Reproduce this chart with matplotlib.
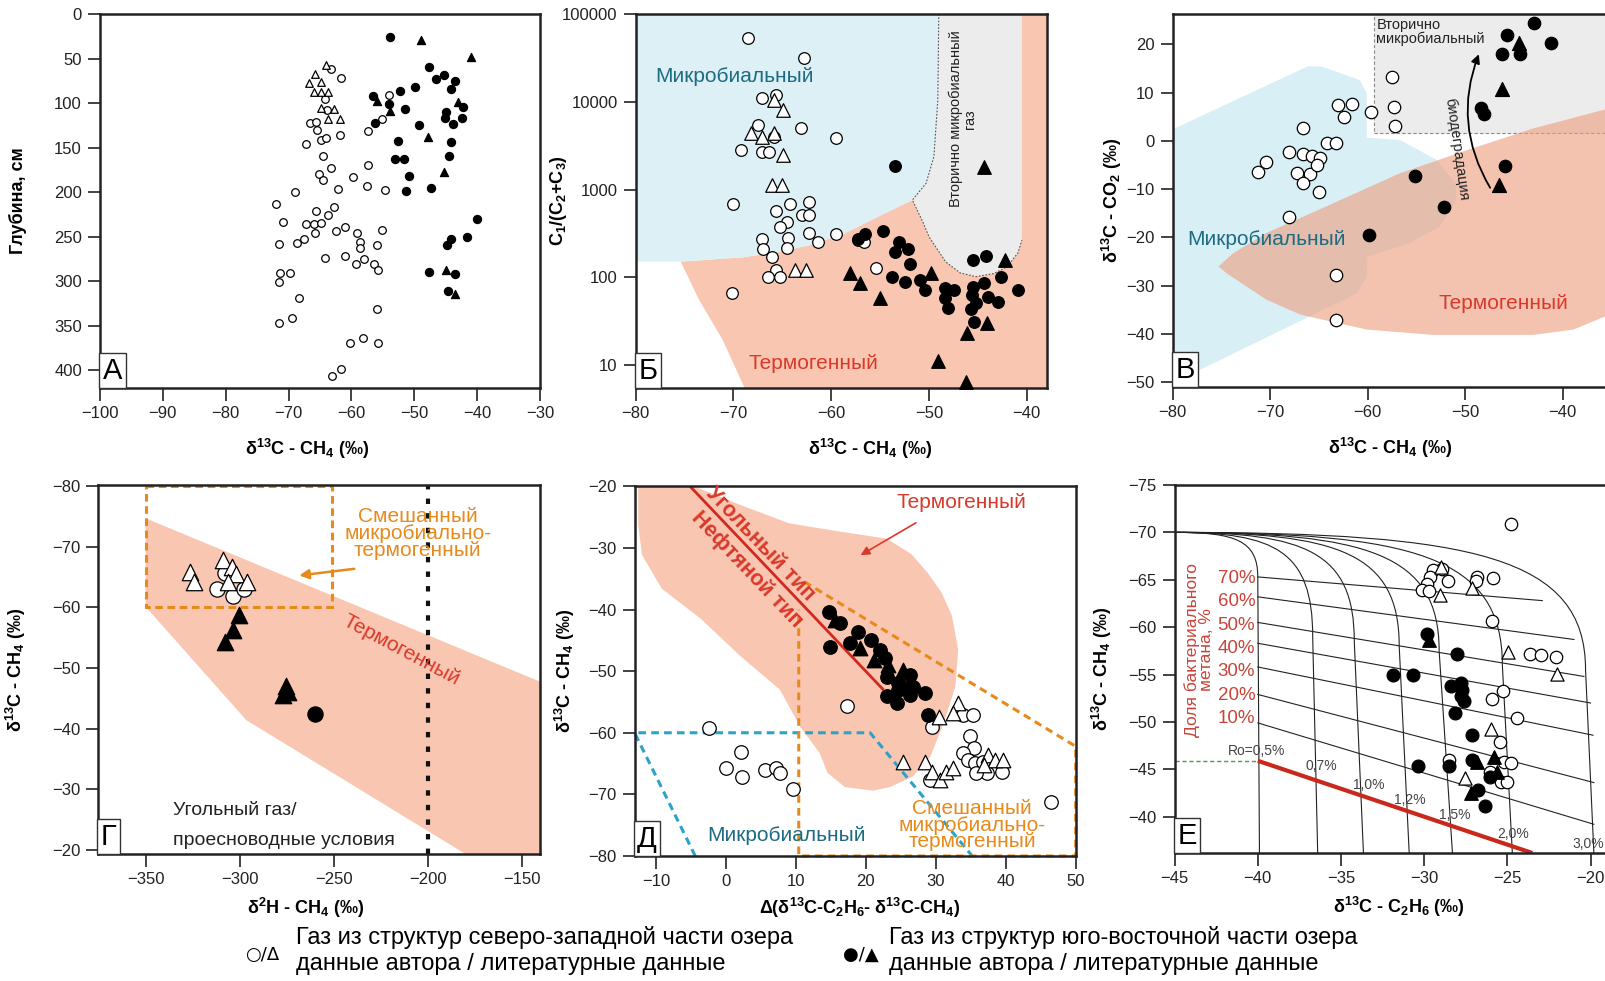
import matplotlib
matplotlib.use("Agg")
import matplotlib.pyplot as plt
import numpy as np
from matplotlib.patches import Polygon, Rectangle, PathPatch, FancyArrowPatch
from matplotlib.path import Path
from matplotlib.ticker import FixedLocator, FixedFormatter, NullLocator

plt.rcParams['font.family'] = ['Liberation Sans', 'DejaVu Sans']
plt.rcParams['mathtext.fontset'] = 'custom'
plt.rcParams['mathtext.rm'] = 'Liberation Sans'
plt.rcParams['mathtext.bf'] = 'Liberation Sans:bold'
plt.rcParams['mathtext.it'] = 'Liberation Sans:italic'
plt.rcParams['mathtext.default'] = 'bf'

PINK = '#f9c6b1'
BLUE = '#dcf0f6'
GREY = '#ececec'
TEAL = '#1d6b82'
RED = '#d8392b'
ORANGE = '#e8891c'
CYAN = '#2aa3c7'

# ---------------- data ----------------
# A: depth vs d13C-CH4
a_open_circ = [(-63.2, 61.8), (-61.6, 71.5), (-54.1, 91), (-64.2, 95.5), (-63.9, 108), (-66.6, 122),
               (-65.6, 121), (-65.5, 130), (-55.2, 118), (-57.4, 131), (-64.9, 141), (-64.1, 139),
               (-61.8, 136), (-67.3, 146), (-64.6, 159.5), (-57.3, 170), (-63.2, 173), (-65.2, 180),
               (-64.5, 186.5), (-59.7, 183), (-57.5, 193), (-62.2, 197), (-54.7, 198), (-69.0, 200),
               (-72.0, 213), (-65.7, 221), (-62.8, 216.5), (-63.8, 226), (-70.9, 234), (-67.3, 236),
               (-65.9, 236), (-64.8, 234.5), (-65.8, 246), (-61.0, 239), (-62.4, 244), (-59.1, 246),
               (-55.1, 243), (-71.6, 258), (-68.6, 257), (-67.6, 253), (-64.2, 274.5), (-61.1, 272),
               (-58.7, 256), (-58.7, 263), (-58.0, 275.6), (-59.2, 281), (-56.4, 281), (-56.0, 259.5),
               (-55.7, 287), (-71.3, 290.6), (-69.8, 290.6), (-71.6, 301), (-68.3, 318.7), (-71.5, 346.8),
               (-69.4, 341), (-56.0, 331.8), (-60.2, 370), (-58.1, 364), (-55.8, 369), (-61.6, 399),
               (-63.1, 406.7)]
a_open_tri = [(-64.1, 57), (-65.8, 67), (-66.8, 77), (-64.8, 76), (-65.9, 88), (-64.8, 88), (-63.8, 88),
              (-64.9, 106), (-62.8, 107), (-63.8, 118), (-61.8, 118)]
a_fill_circ = [(-53.9, 25.5), (-47.6, 60), (-45.2, 68), (-46.5, 72.5), (-43.5, 75), (-49.9, 81.6),
               (-44.2, 84.6), (-52.3, 86.5), (-56.5, 91.8), (-54.0, 101.5), (-42.3, 104), (-51.4, 106.7),
               (-44.9, 109.7), (-45.1, 116.5), (-42.4, 117), (-56.3, 122), (-43.9, 124), (-49.3, 124.7),
               (-52.6, 142.7), (-44.2, 143.4), (-53.0, 163), (-51.6, 163), (-44.5, 159), (-50.9, 182),
               (-51.3, 199), (-47.3, 195), (-40.1, 230), (-41.6, 250), (-44.2, 253), (-44.8, 259.5),
               (-47.6, 289.5), (-43.6, 292.5), (-44.6, 311)]
a_fill_tri = [(-48.9, 29), (-41.0, 48), (-56.0, 97.8), (-43.1, 98.5), (-53.8, 109), (-47.8, 138),
              (-45.3, 177), (-44.9, 288), (-43.6, 314)]

# Б: C1/(C2+C3) vs d13C-CH4
b_open_circ = [(-68.5, 53700), (-62.8, 31300), (-67.1, 11100), (-65.6, 11900), (-67.5, 5430), (-63.1, 4980),
               (-65.9, 4000), (-59.5, 3830), (-69.2, 2820), (-67.1, 2700), (-66.4, 2700), (-70.0, 684),
               (-64.2, 684), (-62.3, 726), (-63.0, 512), (-62.3, 512), (-65.7, 574), (-64.5, 431),
               (-65.2, 377), (-62.3, 316), (-59.5, 308), (-67.1, 275), (-64.4, 282), (-61.4, 250),
               (-67.0, 208), (-64.5, 217), (-66.1, 172), (-65.7, 121), (-66.5, 102), (-65.2, 100),
               (-70.2, 65.6), (-57.3, 266), (-56.6, 254), (-55.4, 126)]
b_open_tri = [(-65.9, 10470), (-64.9, 8050), (-68.2, 4370), (-67.1, 3990), (-65.9, 4370), (-64.9, 2470),
              (-66.1, 1120), (-65.05, 1120), (-63.7, 121), (-62.6, 121)]
b_fill_circ = [(-53.5, 1870), (-57.3, 272), (-56.5, 308), (-54.7, 336), (-53.1, 250), (-53.5, 196),
               (-52.1, 210), (-51.9, 141), (-53.8, 102), (-52.5, 89), (-50.9, 93), (-50.45, 71.6),
               (-48.4, 74.8), (-47.4, 71.6), (-48.4, 57.5), (-48.1, 44.3), (-45.5, 157), (-44.2, 175),
               (-45.5, 78), (-44.4, 85), (-42.6, 100), (-40.9, 71.6), (-45.6, 62.8), (-44.0, 60),
               (-42.95, 52.7), (-45.15, 50.5), (-45.7, 43.2), (-45.4, 31.2)]
b_fill_tri = [(-44.4, 1820), (-42.2, 157), (-58.1, 111), (-57.1, 85), (-55.0, 57.5), (-49.8, 111),
              (-46.1, 22.9), (-44.1, 29.9), (-49.1, 11), (-46.2, 6.45)]

# В: d13C-CO2 vs d13C-CH4
c_open_circ = [(-57.5, 13.3), (-63.0, 7.4), (-61.65, 7.6), (-62.4, 5.0), (-59.7, 6.05), (-57.3, 7.1),
               (-57.2, 3.1), (-66.6, 2.75), (-64.2, -0.5), (-63.25, -0.5), (-71.3, -6.5), (-70.4, -4.4),
               (-68.1, -2.4), (-66.6, -2.8), (-65.7, -3.05), (-64.9, -3.5), (-67.3, -6.6), (-65.9, -6.9),
               (-65.2, -5.0), (-66.6, -8.8), (-65.0, -10.6), (-68.1, -15.8), (-63.3, -27.8), (-63.3, -37.2)]
c_fill_circ = [(-42.9, 24.5), (-45.7, 21.9), (-41.2, 20.2), (-46.25, 18.1), (-44.4, 18.1), (-48.4, 6.9),
               (-48.1, 5.5), (-45.9, -5.1), (-55.1, -7.2), (-52.2, -13.6), (-59.9, -19.5)]
c_fill_tri = [(-44.5, 20.2), (-46.2, 10.7), (-46.5, -9.2)]

# Г: d13C-CH4 vs d2H-CH4
g_open_circ = [(-312.3, -63.0), (-303.8, -61.8), (-307.9, -65.6), (-297.8, -63.1)]
g_open_tri = [(-326.5, -65.9), (-324.2, -64.1), (-308.8, -67.8), (-304.3, -66.7), (-302.0, -65.5),
              (-306.1, -64.2), (-296.0, -64.1)]
g_fill_tri = [(-300.3, -58.75), (-303.8, -56.3), (-307.9, -54.35), (-275.5, -47.0), (-277.0, -45.5),
              (-274.5, -46.0)]
g_fill_circ = [(-260.0, -42.4)]

# Д: d13C-CH4 vs (d13C-C2H6 - d13C-CH4)
d_fill_circ = [(14.77, -40.35), (16.3, -42.2), (14.87, -46.0), (17.7, -45.5), (18.9, -43.6), (20.8, -44.9),
               (22.7, -47.9), (23.0, -50.9), (24.6, -52.0), (26.3, -50.6), (26.8, -52.5), (26.3, -53.9),
               (28.45, -53.6), (23.0, -54.1), (24.4, -55.2), (28.9, -57.1), (24.6, -53.0), (22.0, -46.5),
               (25.5, -52.8)]
d_fill_tri = [(15.6, -41.7), (19.1, -46.3), (21.2, -48.2), (23.2, -49.0), (25.35, -49.8)]
d_open_circ = [(17.3, -55.6), (-2.5, -59.3), (2.2, -63.1), (0.0, -65.7), (2.3, -67.1), (5.6, -66.1),
               (7.1, -65.7), (7.7, -66.5), (9.6, -69.2), (29.4, -59.0), (33.9, -57.1), (35.3, -57.1),
               (34.9, -60.6), (35.4, -62.5), (33.9, -63.3), (34.6, -64.4), (35.6, -64.9), (36.8, -64.7),
               (37.3, -66.5), (35.8, -66.5), (39.4, -66.3), (29.2, -67.6), (46.4, -71.3)]
d_open_tri = [(33.2, -55.1), (32.4, -56.8), (30.4, -57.4), (25.3, -64.8), (28.45, -64.8), (29.4, -66.3),
              (30.6, -67.6), (31.5, -66.3), (32.5, -65.7), (37.5, -63.6), (38.5, -64.4), (39.65, -64.4),
              (36.9, -65.2)]

# Е: d13C-CH4 vs d13C-C2H6
e_open_circ = [(-24.8, -70.9), (-28.95, -66.1), (-29.45, -66.0), (-29.65, -65.3), (-29.85, -64.6),
               (-30.15, -63.9), (-29.7, -63.85), (-28.55, -64.9), (-26.85, -65.3), (-26.9, -64.9),
               (-25.85, -65.15), (-25.95, -60.7), (-23.64, -57.2), (-23.0, -57.1), (-22.08, -56.9),
               (-25.25, -53.3), (-25.9, -52.4), (-24.4, -50.4), (-25.45, -47.9), (-28.5, -46.0),
               (-25.2, -45.8), (-24.8, -45.7), (-26.05, -44.75), (-25.4, -43.7), (-25.0, -43.7)]
e_open_tri = [(-29.05, -63.4), (-27.15, -64.1), (-24.95, -57.4), (-22.0, -55.1), (-25.99, -49.3),
              (-27.55, -44.05), (-29.0, -66.3)]
e_fill_circ = [(-29.8, -59.3), (-28.0, -57.2), (-31.9, -55.0), (-30.7, -55.0), (-28.4, -53.8), (-27.8, -54.1),
               (-27.7, -53.4), (-27.8, -52.7), (-27.6, -52.2), (-28.15, -50.9), (-27.1, -48.6), (-30.4, -45.35),
               (-28.5, -45.3), (-27.15, -46.0), (-26.05, -44.2), (-26.75, -42.8), (-26.35, -41.1)]
e_fill_tri = [(-29.7, -58.6), (-26.8, -45.8), (-25.8, -46.3), (-27.2, -42.5), (-25.6, -44.75)]

# region outlines
b_blue_edge = [(-49.0, 1e5), (-49.1, 10470), (-49.5, 2366), (-50.3, 1175), (-51.7, 759), (-55.2, 490),
               (-58.65, 316), (-62.1, 233), (-65.6, 192), (-69.0, 169), (-75.4, 150.6)]
b_grey_edge = [(-51.7, 759), (-50.6, 420), (-50.0, 290), (-48.3, 150), (-46.8, 112), (-45.2, 101.6),
               (-43.4, 110), (-42.0, 132), (-40.9, 190), (-40.5, 265), (-40.5, 1e5)]
b_pink_left = [(-75.4, 150.6), (-73.5, 55), (-71.1, 19.3), (-68.7, 5.0)]

c_blue_1 = [(-80, 2.4), (-66.1, 15.5), (-64.7, 15.4), (-60.8, 12.6), (-60.1, 9.9), (-60.1, -28.1),
            (-61.1, -31.6), (-80, -50.2)]
c_blue_2 = [(-80, 2.05), (-70.4, 2.1), (-56.7, 0.2), (-52.9, -3.95), (-51.0, -8.8), (-50.9, -12.2),
            (-52.6, -17.75), (-55.7, -21.2), (-60.8, -24.5), (-70.4, -24.65), (-73.8, -24.3)]
c_pink = [(-75.3, -26.0), (-73.8, -23.3), (-70.4, -19.1), (-63.5, -12.9), (-56.7, -6.7), (-49.8, -1.9),
          (-43.0, 2.6), (-34.0, 7.4), (-34.0, -35.0), (-38.9, -39.1), (-43.0, -40.2), (-53.3, -40.2),
          (-60.1, -39.1), (-66.9, -36.0), (-70.4, -32.9), (-74.5, -27.4)]

g_pink = [(-350, -74.67), (-140.5, -47.75), (-140.5, -19.3), (-179.8, -19.3), (-296.5, -41.4),
          (-350, -60.1)]

d_blob = [(-12.55, -20), (-4.6, -20), (2.0, -23.0), (9.0, -26.0), (16.0, -27.3), (23.0, -28.5),
          (26.5, -31.0), (28.8, -34.0), (30.8, -37.2), (32.3, -41.0), (33.2, -46.5), (32.8, -52.5),
          (31.1, -58.5), (29.2, -63.9), (26.7, -67.1), (23.5, -68.8), (21.0, -69.4), (17.0, -68.8),
          (14.5, -66.5), (13.4, -63.3), (10.6, -59.0), (7.7, -53.0), (2.0, -47.5), (-3.6, -41.5),
          (-9.2, -36.6), (-12.0, -31.15), (-12.55, -26.3)]
d_oil_line = [(-5.4, -19.7), (22.4, -52.9)]
d_blue_dash = [(-4.4, -80), (-13.07, -60), (20.6, -60), (35.2, -80)]
d_orange_diag = [(11.2, -35.5), (50, -62.2), (50, -80), (10.4, -80), (10.4, -40)]

# Е mixing grid
ro_labels = ['Ro=0,5%', '0,7%', '1,0%', '1,2%', '1,5%', '2,0%', '3,0%']
ro_label_pos = [(-40.07, -46.9), (-36.16, -45.3), (-33.36, -43.35), (-30.85, -41.76), (-28.15, -40.2),
                (-24.65, -38.2), (-20.14, -37.1)]
ro_bottom_x = [-39.9, -36.4, -33.65, -30.9, -28.3, -24.7, -19.8]
ro_bend_x = [-40.0, -36.7, -34.2, -31.5, -29.1, -25.3, -20.3]
ro_bend_y = [-65.3, -59.0, -58.5, -58.0, -57.5, -56.0, -55.5]
pct_labels = ['10%', '20%', '30%', '40%', '50%', '60%', '70%']
pct_left_y = [-49.9, -52.9, -55.8, -58.3, -60.5, -63.2, -65.3]
pct_right_x = [-19.8, -19.8, -19.85, -20.0, -20.4, -21.0, -22.9]
pct_right_y = [-39.2, -43.6, -48.6, -52.0, -54.8, -58.7, -62.8]
pct_text_y = [-50.4, -52.8, -55.3, -57.8, -60.2, -62.7, -65.15]
thermo_line = [(-40.0, -45.9), (-23.5, -36.17)]


def frame(ax, xlim, ylim, xticks, yticks, letter):
    ax.set_xlim(*xlim)
    ax.set_ylim(*ylim)
    ax.xaxis.set_major_locator(FixedLocator(xticks))
    ax.yaxis.set_major_locator(FixedLocator(yticks))
    ax.tick_params(direction='out', length=9, width=1.2, labelsize=12, pad=4, colors='#222')
    for s in ax.spines.values():
        s.set_linewidth(1.8)
        s.set_color('#222')
    ax.text(0.006, 0.009, letter, transform=ax.transAxes, fontsize=21, ha='left', va='bottom',
            bbox=dict(boxstyle='square,pad=0.12', fc='white', ec='#333', lw=1), zorder=10)


def dots(ax, pts, marker, filled, size):
    p = np.array(pts)
    ax.scatter(p[:, 0], p[:, 1], s=size, marker=marker, facecolors='black' if filled else 'white',
               edgecolors='black', linewidths=0.9, zorder=5, clip_on=False)


fig = plt.figure(figsize=(16.06, 9.81), dpi=100)
W, H = 1606.0, 981.0


def axes_px(left, top, right, bottom):
    return fig.add_axes([left / W, 1 - bottom / H, (right - left) / W, (bottom - top) / H])


ylab = dict(fontsize=13, fontweight='bold')

# ---------- A ----------
ax = axes_px(100, 14, 540, 388)
frame(ax, (-100, -30), (420, 0), range(-100, -29, 10), range(0, 401, 50), 'А')
dots(ax, a_open_circ, 'o', False, 30)
dots(ax, a_open_tri, '^', False, 30)
dots(ax, a_fill_circ, 'o', True, 34)
dots(ax, a_fill_tri, '^', True, 34)
ax.set_ylabel('Глубина, см', **ylab)
ax.yaxis.set_label_coords(-0.165, 0.5)
ax.set_xlabel('δ$^{13}$C - CH$_4$ (‰)', **ylab)
ax.xaxis.set_label_coords(0.47, -0.132)

# ---------- Б ----------
ax = axes_px(635.7, 14, 1047, 388)
ax.set_yscale('log')
frame(ax, (-80, -37.93), (5.47, 1e5), [-80, -70, -60, -50, -40], [10, 100, 1000, 10000, 100000], 'Б')
ax.yaxis.set_major_formatter(FixedFormatter(['10', '100', '1000', '10000', '100000']))
ax.yaxis.set_minor_locator(NullLocator())
pink_poly = b_pink_left + [(-30, 5.0), (-30, 1e5)] + b_blue_edge[:5] + b_blue_edge[5:]
ax.add_patch(Polygon(pink_poly, closed=True, fc=PINK, ec='none', zorder=0))
ax.add_patch(Polygon(b_blue_edge[:5] + b_grey_edge[1:], closed=True, fc=GREY, ec='none', zorder=0.5))
ax.add_patch(Polygon(b_blue_edge + [(-80, 150.6), (-80, 1e5)], closed=True, fc=BLUE, ec='none', zorder=0.6))
bx, by = zip(*(b_blue_edge[:5] + b_grey_edge[1:-1]))
ax.plot(bx, by, color='#555', lw=0.8, ls=(0, (1.5, 1.5)), zorder=1)
ax.text(-69.9, 19650, 'Микробиальный', color=TEAL, fontsize=15, ha='center', va='center')
ax.text(-61.8, 10.5, 'Термогенный', color=RED, fontsize=15, ha='center', va='center')
ax.text(-46.5, 6400, 'Вторично микробиальный\nгаз', rotation=90, fontsize=10.5, ha='center',
        va='center', multialignment='center', color='#222', linespacing=1.0)
dots(ax, b_open_circ, 'o', False, 70)
dots(ax, b_open_tri, '^', False, 95)
dots(ax, b_fill_circ, 'o', True, 70)
dots(ax, b_fill_tri, '^', True, 95)
ax.set_ylabel('C$_1$/(C$_2$+C$_3$)', **ylab)
ax.yaxis.set_label_coords(-0.163, 0.5)
ax.set_xlabel('δ$^{13}$C - CH$_4$ (‰)', **ylab)
ax.xaxis.set_label_coords(0.57, -0.132)

# ---------- В ----------
ax = axes_px(1172.7, 14, 1611, 387)
frame(ax, (-80, -35.05), (-51, 26.3), [-80, -70, -60, -50, -40], range(-50, 21, 10), 'В')
ax.add_patch(Polygon(c_blue_1, closed=True, fc='#d8eff6', ec='none', zorder=0))
ax.add_patch(Polygon(c_blue_2, closed=True, fc='#d8eff6', ec='none', zorder=0))
ax.add_patch(Rectangle((-59.4, 1.57), 30, 30, fc=GREY, ec='#888', lw=0.8, ls=(0, (3, 2)), zorder=0.3))
ax.add_patch(Polygon(c_pink, closed=True, fc='#ee9c7c', alpha=0.6, ec='none', zorder=0.6))
ax.text(-70.4, -20.5, 'Микробиальный', color=TEAL, fontsize=15, ha='center', va='center', zorder=3)
ax.text(-46.1, -33.6, 'Термогенный', color=RED, fontsize=15, ha='center', va='center', zorder=3)
ax.text(-59.1, 22.6, 'Вторично\nмикробиальный', fontsize=10.5, ha='left', va='center',
        color='#222', linespacing=0.95)
ax.add_patch(FancyArrowPatch((-47.3, -10.2), (-48.5, 18.5), connectionstyle='arc3,rad=-0.25',
                             arrowstyle='-|>', mutation_scale=13, lw=1.3, color='black', zorder=4))
ax.text(-50.9, -1.7, 'биодеградация', rotation=-82, fontsize=10.5, ha='center', va='center', color='#222')
dots(ax, c_open_circ, 'o', False, 80)
dots(ax, c_fill_circ, 'o', True, 80)
dots(ax, c_fill_tri, '^', True, 100)
ax.set_ylabel('δ$^{13}$C - CO$_2$ (‰)', **ylab)
ax.yaxis.set_label_coords(-0.11, 0.5)
ax.set_xlabel('δ$^{13}$C - CH$_4$ (‰)', **ylab)
ax.xaxis.set_label_coords(0.495, -0.132)

# ---------- Г ----------
ax = axes_px(98.2, 485, 540, 854.3)
frame(ax, (-375.2, -140.5), (-19.3, -80.16), [-350, -300, -250, -200, -150], range(-80, -19, 10), 'Г')
ax.add_patch(Polygon(g_pink, closed=True, fc=PINK, ec='none', zorder=0))
ax.add_patch(Rectangle((-350, -80), 99, 20, fill=False, ec=ORANGE, lw=2.2, ls=(0, (2.5, 1.5)),
                       zorder=1, clip_on=False))
ax.axvline(-200, color='#111', lw=3, ls=(0, (1.3, 2.2)), zorder=1)
ax.text(-205.4, -72.2, 'Смешанный\nмикробиально-\nтермогенный', color=ORANGE, fontsize=15,
        ha='center', va='center', linespacing=0.88, zorder=3)
ax.annotate('', xy=(-269.9, -65.2), xytext=(-237.7, -66.4),
            arrowprops=dict(arrowstyle='-|>', color=ORANGE, lw=1.8, mutation_scale=14))
ax.text(-214, -53, 'Термогенный', color=RED, fontsize=15, rotation=-28, ha='center', va='center')
ax.text(-335.4, -26.6, 'Угольный газ/', fontsize=14, ha='left', va='center', color='#222')
ax.text(-335.4, -21.65, 'проесноводные условия', fontsize=14, ha='left', va='center', color='#222')
dots(ax, g_open_circ, 'o', False, 120)
dots(ax, g_open_tri, '^', False, 140)
dots(ax, g_fill_tri, '^', True, 140)
dots(ax, g_fill_circ, 'o', True, 120)
ax.set_ylabel('δ$^{13}$C - CH$_4$ (‰)', **ylab)
ax.yaxis.set_label_coords(-0.158, 0.5)
ax.set_xlabel('δ$^2$H - CH$_4$ (‰)', **ylab)
ax.xaxis.set_label_coords(0.47, -0.112)

# ---------- Д ----------
ax = axes_px(634.6, 486.3, 1075.7, 856)
frame(ax, (-13.07, 50), (-80, -20), range(-10, 51, 10), range(-80, -19, 10), 'Д')
ax.add_patch(Polygon(d_blob, closed=True, fc=PINK, ec='none', zorder=0))
lx, ly = zip(*d_oil_line)
ax.plot(lx, ly, color='#d02a1f', lw=2, zorder=2)
bx, by = zip(*d_blue_dash)
ax.plot(bx, by, color=CYAN, lw=2.2, ls=(0, (2.5, 1.7)), zorder=1, clip_on=False)
ox, oy = zip(*d_orange_diag)
ax.plot(ox, oy, color=ORANGE, lw=2.2, ls=(0, (2.5, 1.7)), zorder=1, clip_on=False)
ax.text(4.9, -29.3, 'Угольный тип', color=RED, fontsize=15.5, fontweight='bold', rotation=-46.5,
        ha='center', va='center', zorder=3)
ax.text(3.0, -33.5, 'Нефтяной тип', color=RED, fontsize=15.5, fontweight='bold', rotation=-46.5,
        ha='center', va='center', zorder=3)
ax.text(33.7, -22.7, 'Термогенный', color=RED, fontsize=15, ha='center', va='center')
ax.annotate('', xy=(18.9, -31.4), xytext=(27.5, -25.7),
            arrowprops=dict(arrowstyle='-|>', color=RED, lw=1.2, mutation_scale=13))
ax.text(8.6, -76.6, 'Микробиальный', color=TEAL, fontsize=15, ha='center', va='center', zorder=3)
ax.text(35.2, -75.0, 'Смешанный\nмикробиально-\nтермогенный', color=ORANGE, fontsize=15,
        ha='center', va='center', linespacing=0.85, zorder=3)
dots(ax, d_open_circ, 'o', False, 95)
dots(ax, d_open_tri, '^', False, 110)
dots(ax, d_fill_circ, 'o', True, 95)
dots(ax, d_fill_tri, '^', True, 110)
ax.set_ylabel('δ$^{13}$C - CH$_4$ (‰)', **ylab)
ax.yaxis.set_label_coords(-0.13, 0.5)
ax.set_xlabel('Δ(δ$^{13}$C-C$_2$H$_6$- δ$^{13}$C-CH$_4$)', **ylab)
ax.xaxis.set_label_coords(0.51, -0.108)

# ---------- Е ----------
ax = axes_px(1174.6, 485, 1611, 853)
frame(ax, (-45, -18.77), (-36.17, -75), [-45, -40, -35, -30, -25, -20], range(-75, -39, 5), 'Е')
for xb, xv, yv in zip(ro_bottom_x, ro_bend_x, ro_bend_y):
    verts = [(xb, -36.17), (xv, yv), (xv, yv + 0.82 * (-70 - yv)), (xv - 0.27 * (xv + 45), -70), (-45, -70)]
    codes = [Path.MOVETO, Path.LINETO, Path.CURVE4, Path.CURVE4, Path.CURVE4]
    ax.add_patch(PathPatch(Path(verts, codes), fill=False, lw=0.8, ec='#222', zorder=1))
for yl, rx, ry in zip(pct_left_y, pct_right_x, pct_right_y):
    ax.plot([-40.0, rx], [yl, ry], color='#222', lw=0.8, zorder=1)
for lab, ty in zip(pct_labels, pct_text_y):
    ax.text(-40.15, ty, lab, color='#c8443a', fontsize=13.5, ha='right', va='center')
for lab, (tx, ty) in zip(ro_labels, ro_label_pos):
    ax.text(tx, ty, lab, color='#444', fontsize=10, ha='center', va='center')
tx_, ty_ = zip(*thermo_line)
ax.plot(tx_, ty_, color='#c9281c', lw=3, zorder=2, solid_capstyle='butt')
ax.plot([-45, -40], [-45.9, -45.9], color='#4c9a4c', lw=1, ls=(0, (3, 2)), zorder=1)
ax.text(-43.53, -57.6, 'Доля бактериального\nметана, %', color='#c8443a', fontsize=12.5, rotation=90,
        ha='center', va='center', multialignment='center', linespacing=0.95)
dots(ax, e_open_circ, 'o', False, 80)
dots(ax, e_open_tri, '^', False, 90)
dots(ax, e_fill_circ, 'o', True, 85)
dots(ax, e_fill_tri, '^', True, 95)
ax.set_ylabel('δ$^{13}$C - CH$_4$ (‰)', **ylab)
ax.yaxis.set_label_coords(-0.14, 0.5)
ax.set_xlabel('δ$^{13}$C - C$_2$H$_6$ (‰)', **ylab)
ax.xaxis.set_label_coords(0.515, -0.115)

# ---------- legend ----------
leg_font = ['Liberation Sans', 'DejaVu Sans']
fig.text(262 / W, 1 - 955 / H, '○/Δ', fontsize=13, ha='center', va='center', family=['DejaVu Sans'])
fig.text(296 / W, 1 - 937.5 / H, 'Газ из структур северо-западной части озера', fontsize=17,
         ha='left', va='center', family=leg_font)
fig.text(296 / W, 1 - 964 / H, 'данные автора / литературные данные', fontsize=17,
         ha='left', va='center', family=leg_font)
fig.text(861 / W, 1 - 955 / H, '●/▲', fontsize=13, ha='center', va='center', family=['DejaVu Sans'])
fig.text(889 / W, 1 - 937.5 / H, 'Газ из структур юго-восточной части озера', fontsize=17,
         ha='left', va='center', family=leg_font)
fig.text(889 / W, 1 - 964 / H, 'данные автора / литературные данные', fontsize=17,
         ha='left', va='center', family=leg_font)

fig.savefig('out.png', dpi=100)
